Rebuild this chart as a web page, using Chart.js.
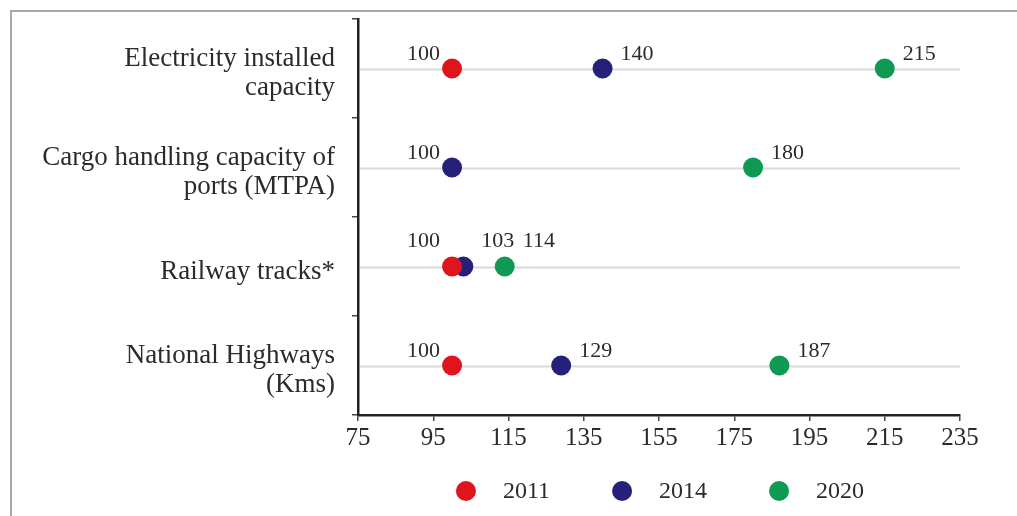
<!DOCTYPE html>
<html>
<head>
<meta charset="utf-8">
<script src="https://cdn.jsdelivr.net/npm/chart.js@4/dist/chart.umd.min.js"></script>
<style>
  html, body { margin: 0; padding: 0; background: #fff; }
  #wrap { position: relative; width: 1017px; height: 516px; overflow: hidden; }
  #wrap canvas { position: absolute; left: 0; top: 0; }
  #frame { position: absolute; left: 10px; top: 10px; width: 1100px; height: 600px;
           border-top: 2px solid #a8a8a8; border-left: 2px solid #a8a8a8; pointer-events: none; }
</style>
</head>
<body>
<div id="wrap">
  <canvas id="chart" width="1017" height="516"></canvas>
  <div id="frame"></div>
</div>
<script>
// Index values (2011 = 100) for each infrastructure measure
const categories = [
  ['Electricity installed', 'capacity'],
  ['Cargo handling capacity of', 'ports (MTPA)'],
  'Railway tracks*',
  ['National Highways', '(Kms)']
];
const seriesNames = ['2011', '2014', '2020'];
const values2011 = [100, null, 100, 100];
const values2014 = [140, 100, 103, 129];
const values2020 = [215, 180, 114, 187];
const xTickValues = [75, 95, 115, 135, 155, 175, 195, 215, 235];

const seriesColors = ['#e0141c', '#25217a', '#0e9a53'];
const FONT = '"Liberation Serif", "Times New Roman", serif';
const TEXT = '#2b2b2b';

// Light horizontal guide line through each category row
const rowLines = {
  id: 'rowLines',
  beforeDatasetsDraw(chart) {
    const { ctx, chartArea, scales } = chart;
    const y = scales.y;
    ctx.save();
    ctx.strokeStyle = '#dadada';
    ctx.lineWidth = 2;
    y.ticks.forEach((t, i) => {
      const py = Math.round(y.getPixelForTick(i)) + 0.5;
      ctx.beginPath();
      ctx.moveTo(chartArea.left + 2, py);
      ctx.lineTo(chartArea.right, py);
      ctx.stroke();
    });
    ctx.restore();
  }
};

// Value labels beside each dot
const valueLabels = {
  id: 'valueLabels',
  afterDatasetsDraw(chart) {
    const { ctx } = chart;
    ctx.save();
    ctx.font = '22px ' + FONT;
    ctx.fillStyle = TEXT;
    ctx.textBaseline = 'middle';
    chart.data.datasets.forEach((ds, di) => {
      const meta = chart.getDatasetMeta(di);
      meta.data.forEach((pt, i) => {
        const v = ds.data[i];
        if (v === null || v === undefined) return;
        const raise = categories[i] === 'Railway tracks*' ? 25 : 14;
        if (v === 100) {
          ctx.textAlign = 'right';
          ctx.fillText(String(v), pt.x - 12, pt.y - raise);
        } else {
          ctx.textAlign = 'left';
          ctx.fillText(String(v), pt.x + 18, pt.y - raise);
        }
      });
    });
    ctx.restore();
  }
};

// Legend row under the axis: dot then year
const dotLegend = {
  id: 'dotLegend',
  afterDraw(chart) {
    const { ctx, chartArea } = chart;
    const r = 10, gap = 27, spacing = 62;
    ctx.save();
    ctx.font = '24px ' + FONT;
    ctx.textBaseline = 'middle';
    ctx.textAlign = 'left';
    const items = chart.data.datasets.map(ds => ({
      label: ds.label, color: ds.backgroundColor, w: ctx.measureText(ds.label).width
    }));
    const total = items.reduce((s, it) => s + 2 * r + gap + it.w, 0) + spacing * (items.length - 1);
    let x = (chartArea.left + chartArea.right) / 2 + 1 - total / 2;
    const y = 491;
    items.forEach(it => {
      ctx.fillStyle = it.color;
      ctx.beginPath();
      ctx.arc(x + r, y, r, 0, Math.PI * 2);
      ctx.fill();
      ctx.fillStyle = TEXT;
      ctx.fillText(it.label, x + 2 * r + gap, y + 1);
      x += 2 * r + gap + it.w + spacing;
    });
    ctx.restore();
  }
};

const seriesValues = [values2011, values2014, values2020];

new Chart(document.getElementById('chart'), {
  type: 'line',
  data: {
    labels: categories,
    datasets: seriesNames.map((name, k) => ({
      label: name,
      data: seriesValues[k],
      showLine: false,
      backgroundColor: seriesColors[k],
      borderColor: seriesColors[k],
      borderWidth: 0,
      pointRadius: 10,
      pointHoverRadius: 10,
      pointBorderWidth: 0
    }))
  },
  options: {
    indexAxis: 'y',
    responsive: false,
    animation: false,
    layout: { padding: { top: 19, right: 57, bottom: 0, left: 0 } },
    plugins: {
      legend: { display: false },
      tooltip: { enabled: false }
    },
    scales: {
      x: {
        type: 'linear',
        min: 75,
        max: 235,
        afterBuildTicks(scale) { scale.ticks = xTickValues.map(v => ({ value: v })); },
        afterFit(scale) { scale.height = 101; },
        border: { display: true, color: '#222', width: 2.5 },
        grid: { drawOnChartArea: false, drawTicks: true, tickLength: 6, color: '#444', lineWidth: 1.5 },
        ticks: { color: TEXT, font: { family: FONT, size: 25 }, padding: 2, maxRotation: 0 }
      },
      y: {
        type: 'category',
        offset: true,
        afterFit(scale) {
          scale.width = 358;
          // rows sit inside their bands, so no extra room is needed above or below
          scale.paddingTop = 0;
          scale.paddingBottom = 0;
        },
        border: { display: true, color: '#222', width: 2.5 },
        grid: { offset: true, drawOnChartArea: false, drawTicks: true, tickLength: 6, color: '#444', lineWidth: 1.5 },
        ticks: { color: TEXT, font: { family: FONT, size: 27, lineHeight: 1.08 }, padding: 17, labelOffset: 5 }
      }
    }
  },
  plugins: [rowLines, valueLabels, dotLegend]
});
</script>
</body>
</html>
